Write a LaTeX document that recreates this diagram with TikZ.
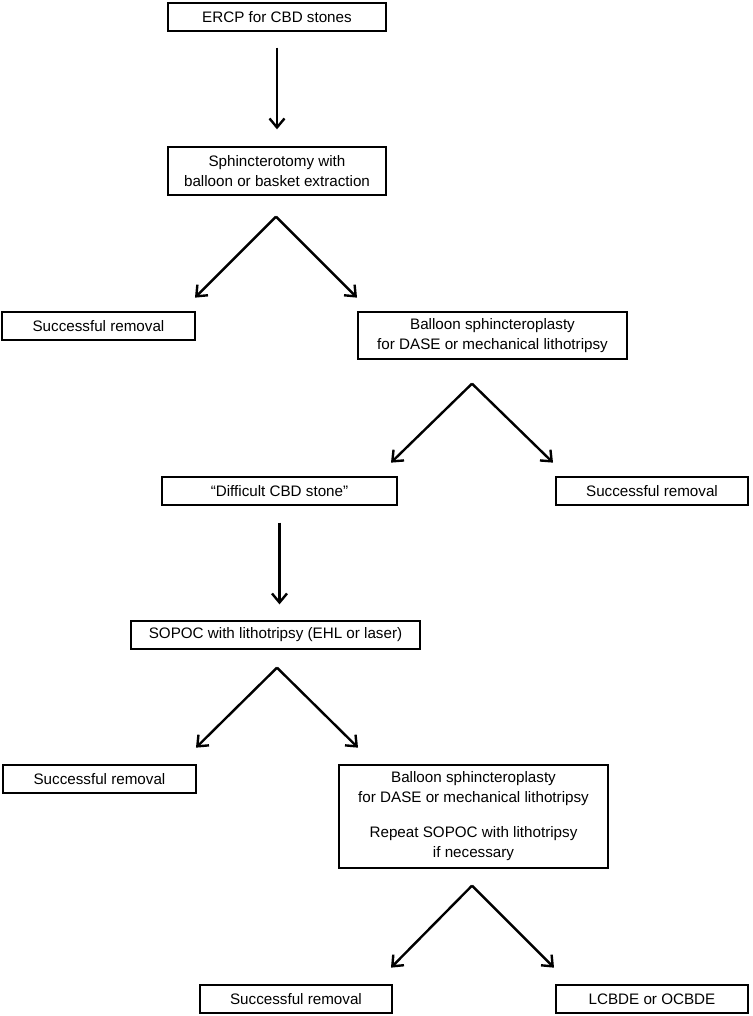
\documentclass[tikz,border=0pt]{standalone}
\usepackage{fontspec}
\setmainfont{Liberation Sans}
\usetikzlibrary{positioning, arrows.meta}

\begin{document}
\begin{tikzpicture}[%
    ->,
    >={Straight Barb[length=9pt,width=15pt]},
    line width=2.4pt,
    align=center,
    font=\fontsize{15.2}{20}\selectfont,
    box/.style={%
      rectangle,
      draw,
      line width=1.3pt,
      inner sep=0pt,
      minimum height=28pt
    }
  ]
    \node[box, minimum width=218pt] (ercp) {ERCP for CBD stones};
    \useasboundingbox ([shift={(-277pt,17pt)}]ercp.center) rectangle ++(752pt,-1016pt);

    \node[box, minimum width=218pt, minimum height=48pt, node distance=154pt] (sphinc) [below of=ercp] {Sphincterotomy with\\balloon or basket extraction};

    \node[box, minimum width=193pt, node distance=155pt, xshift=-178.5pt] (succ1) [below of=sphinc] {Successful removal};

    \node[box, minimum width=269pt, minimum height=47pt, node distance=164.5pt, xshift=215.5pt] (balloon1) [below of=sphinc] {Balloon sphincteroplasty\\for DASE or mechanical lithotripsy};

    \node[box, minimum width=235pt, node distance=155.5pt, xshift=-213pt] (difficult) [below of=balloon1] {“Difficult CBD stone”};

    \node[box, minimum width=192pt, node distance=372.5pt] (succ2) [right of=difficult] {Successful removal};

    \node[box, minimum width=289pt, node distance=144pt, xshift=-4pt] (sopoc) [below of=difficult] {SOPOC with lithotripsy (EHL or laser)};

    \node[box, minimum width=193pt, node distance=144pt, xshift=-176pt] (succ3) [below of=sopoc] {Successful removal};

    \node[box, minimum width=269pt, minimum height=103pt, node distance=181.5pt, xshift=198pt] (balloon2) [below of=sopoc] {Balloon sphincteroplasty\\for DASE or mechanical lithotripsy\\[15pt]Repeat SOPOC with lithotripsy\\if necessary};

    \node[box, minimum width=192pt, node distance=182.5pt, xshift=-177.5pt] (succ4) [below of=balloon2] {Successful removal};

    \node[box, minimum width=192pt, node distance=356pt] (lcbde) [right of=succ4] {LCBDE or OCBDE};

    % split points
    \coordinate (v1) at ([xshift=-1pt, yshift=-21pt]sphinc.south);
    \coordinate (v1l) at ([shift={(-81pt,-81pt)}]v1);
    \coordinate (v1r) at ([shift={(81pt,-81pt)}]v1);

    \coordinate (v2) at ([xshift=-20.5pt, yshift=-24pt]balloon1.south);
    \coordinate (v2l) at ([shift={(-81pt,-79pt)}]v2);
    \coordinate (v2r) at ([shift={(81pt,-79pt)}]v2);

    \coordinate (v3) at ([xshift=1.5pt, yshift=-18pt]sopoc.south);
    \coordinate (v3l) at ([shift={(-81pt,-80pt)}]v3);
    \coordinate (v3r) at ([shift={(81pt,-80pt)}]v3);

    \coordinate (v4) at ([xshift=-1.5pt, yshift=-17pt]balloon2.south);
    \coordinate (v4l) at ([shift={(-81pt,-82pt)}]v4);
    \coordinate (v4r) at ([shift={(82pt,-82pt)}]v4);

    \path (ercp) edge [shorten <=16pt, shorten >=17pt] (sphinc)
          (v1) edge (v1l)
          (v1) edge (v1r)

          (v2) edge (v2l)
          (v2) edge (v2r)

          (difficult) edge [shorten <=17pt, shorten >=16pt] (difficult |- sopoc.north)

          (v3) edge (v3l)
          (v3) edge (v3r)

          (v4) edge (v4l)
          (v4) edge (v4r)
    ;
\end{tikzpicture}
\end{document}
